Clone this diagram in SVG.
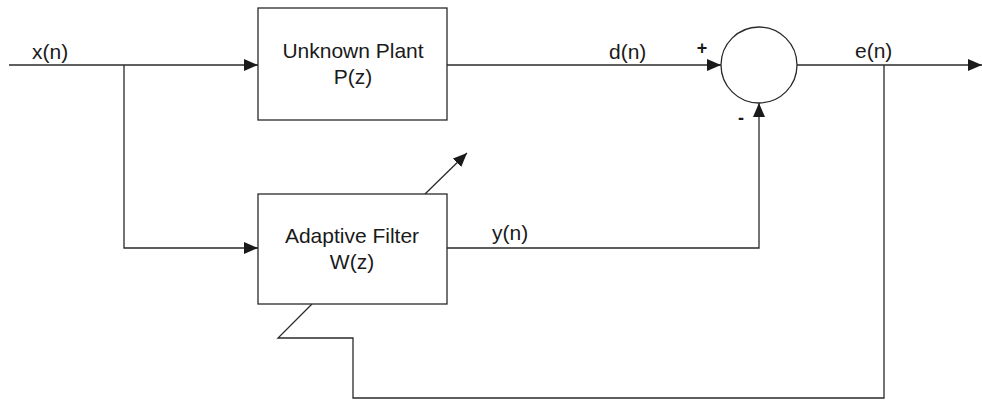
<svg xmlns="http://www.w3.org/2000/svg" width="982" height="400" viewBox="0 0 982 400">
<style>
.ln{fill:none;stroke:#2a2a2a;stroke-width:1.3}
.bx{fill:#fff;stroke:#2a2a2a;stroke-width:1.3}
text{font-family:"Liberation Sans",Arial,sans-serif;font-size:21px;fill:#1a1a1a}
.c{text-anchor:middle}
.s{font-weight:bold;font-size:18px}
</style>
<defs>
<marker id="ah" viewBox="0 0 14 12" refX="14" refY="6" markerWidth="14" markerHeight="12" markerUnits="userSpaceOnUse" orient="auto">
<path d="M0,0 L14,6 L0,12 Z" fill="#1a1a1a"/>
</marker>
</defs>
<rect width="982" height="400" fill="#fff"/>
<g id="connectors">
<line class="ln" x1="9" y1="65" x2="258" y2="65" marker-end="url(#ah)"/>
<polyline class="ln" points="124,65 124,248 258,248" marker-end="url(#ah)"/>
<line class="ln" x1="447" y1="65" x2="721" y2="65" marker-end="url(#ah)"/>
<polyline class="ln" points="447,248 759,248 759,103" marker-end="url(#ah)"/>
<line class="ln" x1="797" y1="65" x2="982" y2="65" marker-end="url(#ah)"/>
<polyline class="ln" points="884,65 884,398 353,398 353,338 278,338 312,304"/>
<line class="ln" x1="425" y1="194" x2="467" y2="153" marker-end="url(#ah)"/>
</g>
<g id="plant">
<rect class="bx" x="258" y="8" width="189" height="112"/>
<text class="c" x="353" y="58">Unknown Plant</text>
<text class="c" x="353" y="84">P(z)</text>
</g>
<g id="filter">
<rect class="bx" x="258" y="194" width="189" height="110"/>
<text class="c" x="352" y="243">Adaptive Filter</text>
<text class="c" x="352" y="269">W(z)</text>
</g>
<g id="sum">
<circle class="bx" cx="759" cy="65" r="38"/>
<text class="c s" x="702" y="54">+</text>
<text class="c s" x="741" y="124">-</text>
</g>
<g id="labels">
<text x="32" y="59">x(n)</text>
<text x="609" y="59">d(n)</text>
<text x="855" y="58">e(n)</text>
<text x="492" y="240">y(n)</text>
</g>
</svg>
